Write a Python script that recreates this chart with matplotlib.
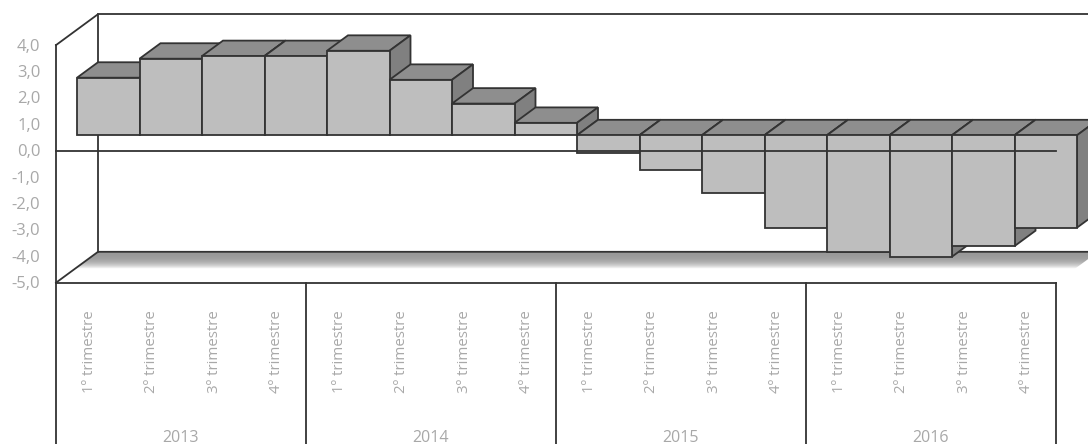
import numpy as np
import matplotlib
matplotlib.use("Agg")
import matplotlib.pyplot as plt
from matplotlib.patches import Polygon

plt.rcParams['font.family'] = ['Open Sans', 'DejaVu Sans']

# valores trimestrais
anos = ['2013', '2014', '2015', '2016']
trimestres = ['1º trimestre', '2º trimestre', '3º trimestre', '4º trimestre']
valores = [2.18, 2.90, 3.00, 3.00, 3.20, 2.10, 1.20, 0.47,
           -0.66, -1.31, -2.20, -3.50, -4.42, -4.60, -4.20, -3.50]
ticks_y = [4, 3, 2, 1, 0, -1, -2, -3, -4, -5]

LINHA = '#333333'
FRENTE = '#bebebe'
TOPO = '#8e8e8e'
LADO = '#808080'
CINZA_TXT = '#a8a8a8'
LW = 1.3

# profundidade do grafico 3D em unidades dos eixos
DX, DY = 0.672, 1.17

fig = plt.figure(figsize=(10.88, 4.44), dpi=100)
ax = fig.add_axes([0, 0, 1, 1])
ax.axis('off')

n = len(valores)
xlim = (-56 / 62.5, (1088 - 56) / 62.5)
ylim = ((150.7 - 444) / 26.4, 150.7 / 26.4)

ymin, ymax = min(ticks_y), max(ticks_y)

# sombra do piso
piso = Polygon([(0, ymin), (DX, ymin + DY), (n + DX, ymin + DY), (n, ymin)],
               closed=True, fc='none', ec='none')
ax.add_patch(piso)
t = np.linspace(0, 1, 32).reshape(-1, 1)
img = ax.imshow(0.6 + 0.4 * t ** 3, cmap='gray', vmin=0, vmax=1, aspect='auto', zorder=1,
                extent=(0, n + DX, ymin + DY - 0.66, ymin + DY))
img.set_clip_path(piso)

# paredes
ax.plot([0, DX, DX], [ymax, ymax + DY, ymin + DY], color=LINHA, lw=LW, zorder=2)
ax.plot([DX, n + DX], [ymax + DY, ymax + DY], color=LINHA, lw=LW, zorder=2)
ax.plot([0, DX, n + DX], [ymin, ymin + DY, ymin + DY], color=LINHA, lw=LW, zorder=2)
ax.plot([0, 0], [ymin, ymax], color=LINHA, lw=LW, zorder=2)

# barras da esquerda para a direita, cada uma cobre a anterior
for i, v in enumerate(valores):
    x0 = i + DX / 2
    x1 = x0 + 1
    y0 = DY / 2
    y1 = v + DY / 2
    alto = max(y0, y1)
    z = 3 + i
    ax.add_patch(Polygon([(x0, alto), (x0 + DX / 2, alto + DY / 2),
                          (x1 + DX / 2, alto + DY / 2), (x1, alto)],
                         closed=True, fc=TOPO, ec=LINHA, lw=LW, zorder=z))
    ax.add_patch(Polygon([(x1, y0), (x1 + DX / 2, y0 + DY / 2),
                          (x1 + DX / 2, y1 + DY / 2), (x1, y1)],
                         closed=True, fc=LADO, ec=LINHA, lw=LW, zorder=z))
    ax.add_patch(Polygon([(x0, y0), (x1, y0), (x1, y1), (x0, y1)],
                         closed=True, fc=FRENTE, ec=LINHA, lw=LW, zorder=z))

# linha do zero por cima das barras
ax.plot([0, n], [0, 0], color=LINHA, lw=LW, zorder=30)

# eixo de categorias em dois niveis
fundo = ylim[0]
ax.plot([0, n], [ymin, ymin], color=LINHA, lw=LW, zorder=30)
for k in range(len(anos) + 1):
    ax.plot([k * 4, k * 4], [ymin, fundo], color=LINHA, lw=LW, zorder=30)

for i in range(n):
    ax.text(i + 0.53, -7.62, trimestres[i % 4], rotation=90, ha='center', va='center',
            fontsize=10.8, color=CINZA_TXT)
for k, ano in enumerate(anos):
    ax.text(k * 4 + 1.99, -10.87, ano, ha='center', va='center', fontsize=11.5, color=CINZA_TXT)

# rotulos do eixo y
for tick in ticks_y:
    ax.text(-0.25, tick - 0.06, f'{tick:.1f}'.replace('.', ','), ha='right', va='center',
            fontsize=12, color=CINZA_TXT)

ax.set_xlim(*xlim)
ax.set_ylim(*ylim)

fig.savefig('out.png', dpi=100)
